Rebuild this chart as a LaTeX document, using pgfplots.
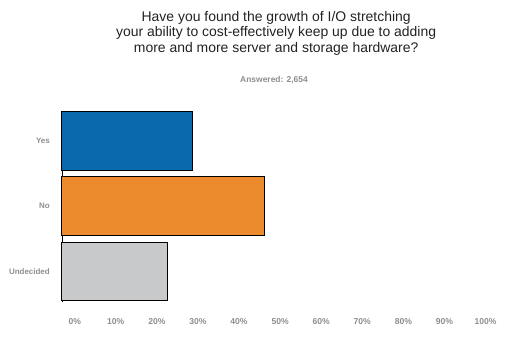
\documentclass[border=0pt]{standalone}
\usepackage{pgfplots}
\pgfplotsset{compat=1.18}
\usepackage{fontspec}
\setmainfont{Liberation Sans}
\definecolor{cblue}{HTML}{0A69AC}
\definecolor{corange}{HTML}{EC8B2E}
\definecolor{cgray}{HTML}{C8C9CB}
\definecolor{lab}{HTML}{8E8E8E}
\definecolor{ttl}{HTML}{222222}
\begin{document}
\begin{tikzpicture}
\begin{axis}[
  scale only axis, width=438bp, height=190bp,
  xmin=0, xmax=100, ymin=-0.467, ymax=2.444,
  axis lines=left, axis line style={-, line width=0.8bp, black},
  x axis line style={draw=none},
  major tick length=0pt, tick style={draw=none},
  xtick={2.9,12.28,21.66,31.04,40.42,49.8,59.18,68.56,77.94,87.32,96.7},
  xticklabels={0\%,10\%,20\%,30\%,40\%,50\%,60\%,70\%,80\%,90\%,100\%},
  xticklabel style={anchor=center, yshift=-20bp, font=\fontsize{8.6}{10}\selectfont\bfseries, text=lab},
  ytick={0,1,2}, yticklabels={Undecided,No,Yes},
  yticklabel style={anchor=east, inner sep=0pt, xshift=-12bp, font=\fontsize{8}{9}\selectfont\bfseries, text=lab},
  clip=false,
]
\addplot[xbar, bar width=58.5bp, bar shift=0pt, fill=cblue, draw=black, line width=1bp] coordinates {(29.8,2)};
\addplot[xbar, bar width=58.5bp, bar shift=0pt, fill=corange, draw=black, line width=1bp] coordinates {(46.2,1)};
\addplot[xbar, bar width=58.5bp, bar shift=0pt, fill=cgray, draw=black, line width=1bp] coordinates {(24.0,0)};
\coordinate (bl) at (rel axis cs:0,0);
\node[anchor=north, inner sep=0pt, align=center, font=\fontsize{14}{15.6}\selectfont, text=ttl] at ([yshift=101bp]rel axis cs:0.489,1) {Have you found the growth of I/O stretching\\your ability to cost-effectively keep up due to adding\\more and more server and storage hardware?};
\node[anchor=center, inner sep=0pt, font=\fontsize{8.5}{10}\selectfont\bfseries, text=lab] at ([yshift=32bp]rel axis cs:0.484,1) {Answered: 2,654};
\end{axis}
\pgfresetboundingbox
\path[use as bounding box] ([shift={(-62bp,-36bp)}]bl) rectangle ([shift={(445bp,302bp)}]bl);
\end{tikzpicture}
\end{document}
